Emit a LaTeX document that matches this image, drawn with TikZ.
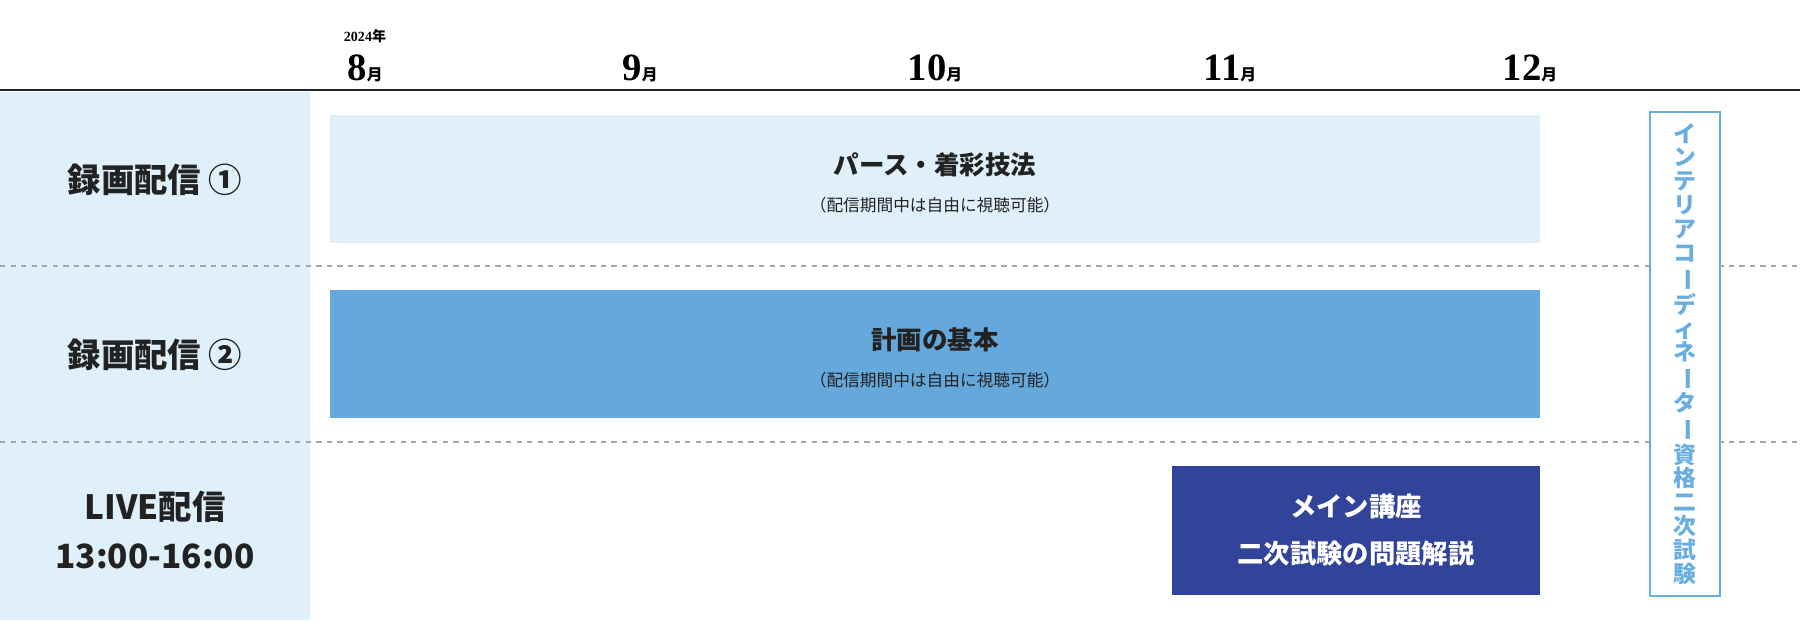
\documentclass[tikz,border=0pt]{standalone}
\usepackage{fontspec}
\setmainfont{Noto Sans CJK JP}
\newfontfamily\numfont{Liberation Serif}
\definecolor{paleblue}{HTML}{DFF0FA}
\definecolor{midblue}{HTML}{64A8DC}
\definecolor{navyblue}{HTML}{32449A}
\definecolor{frameblue}{HTML}{6AAEE0}
\definecolor{textgray}{HTML}{222222}
\newcommand{\mon}[1]{{\numfont\bfseries\fontsize{22}{24}\selectfont #1}{\fontsize{9}{10}\selectfont\bfseries 月}}
\newcommand{\vbar}{\rotatebox[origin=c]{-90}{ー}}
\tikzset{
  rowlabel/.style={font=\fontsize{19}{24}\selectfont\bfseries, text=textgray, align=center},
  bartitle/.style={font=\fontsize{14.5}{18}\selectfont\bfseries, align=center},
  barnote/.style={font=\fontsize{9.5}{12}\selectfont},
  vtext/.style={font=\fontsize{13}{13.6}\selectfont\bfseries, text=frameblue, align=center}
}
\begin{document}
\begin{tikzpicture}[x=0.02cm,y=-0.02cm]
\useasboundingbox (0,0) rectangle (1800,620);
% Columna izquierda
\fill[paleblue] (0,92) rectangle (310,620);
% Cabecera
\draw[line width=1.5pt, textgray] (0,90) -- (1800,90);
\node[font=\fontsize{8}{9}\selectfont\numfont\bfseries] (year) at (365,36) {2024{\fontspec{Noto Sans CJK JP}年}};
\node (m8) at (365,68) {\mon{8}};
\node (m9) at (640,68) {\mon{9}};
\node (m10) at (935,68) {\mon{10}};
\node (m11) at (1230,68) {\mon{11}};
\node (m12) at (1530,68) {\mon{12}};
% Separadores
\draw[dashed, gray!70, thick] (0,266) -- (1800,266);
\draw[dashed, gray!70, thick] (0,442) -- (1800,442);
% Filas
\node[rowlabel] (r1) at (155,180) {録画配信 ①};
\node[rowlabel] (r2) at (155,355) {録画配信 ②};
\node[rowlabel, font=\fontsize{19}{28}\selectfont\bfseries] (r3) at (155,530) {LIVE配信\\13:00-16:00};
% Barras
\fill[paleblue] (330,115) rectangle (1540,243);
\node[bartitle, text=textgray] (b1) at (935,165) {パース・着彩技法};
\node[barnote, text=textgray] (n1) at (935,205) {（配信期間中は自由に視聴可能）};
\fill[midblue] (330,290) rectangle (1540,418);
\node[bartitle, text=textgray] (b2) at (935,340) {計画の基本};
\node[barnote, text=textgray] (n2) at (935,380) {（配信期間中は自由に視聴可能）};
\fill[navyblue] (1172,466) rectangle (1540,595);
\node[bartitle, text=white, font=\fontsize{15}{27}\selectfont\bfseries] (b3) at (1356,530) {メイン講座\\二次試験の問題解説};
% Examen
\draw[frameblue, line width=1.6pt, fill=white] (1650,112) rectangle (1720,596);
\node[vtext] (exam) at (1685,354) {イ\\ン\\テ\\リ\\ア\\コ\\\vbar\\デ\\ィ\\ネ\\\vbar\\タ\\\vbar\\資\\格\\二\\次\\試\\験};
\end{tikzpicture}
\end{document}
